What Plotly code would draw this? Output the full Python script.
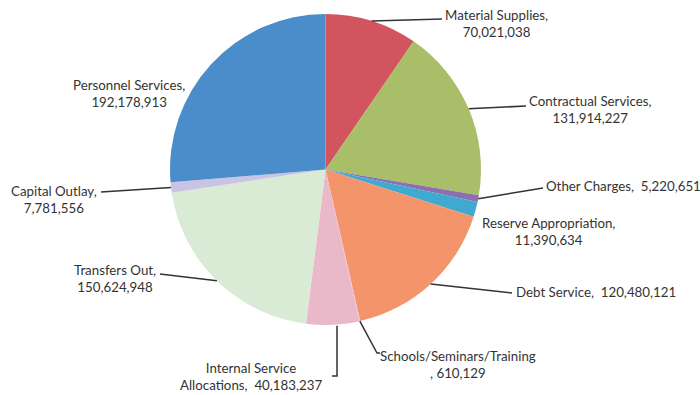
import math
import plotly.graph_objects as go

# Budget categories, in the order they run clockwise from 12 o'clock
categories = [
    "Material Supplies", "Contractual Services", "Other Charges",
    "Reserve Appropriation", "Debt Service", "Schools/Seminars/Training",
    "Internal Service Allocations", "Transfers Out", "Capital Outlay",
    "Personnel Services",
]
amounts = [
    70021038, 131914227, 5220651, 11390634, 120480121, 610129,
    40183237, 150624948, 7781556, 192178913,
]
slice_colors = [
    "#D2545F", "#A8BE69", "#8B6FB0", "#3FA9CF", "#F4946B", "#E9B9C9",
    "#E9B9C9", "#D9EBD4", "#C9C3E4", "#4A8DCA",
]

W, H = 700, 395
# pie box in pixels
PX0, PX1, PY0, PY1 = 170, 481, 14, 325
CX, CY = (PX0 + PX1) / 2, (PY0 + PY1) / 2
R = (PX1 - PX0) / 2


def px(x):
    return x / W


def py(y):
    return 1 - y / H


def fmt(v):
    return f"{v:,}"


# label text placement: pixel anchor, xanchor, text lines, leader-line end (and elbow)
label_layout = {
    "Material Supplies": dict(x=443, y=24, xa="left", lines=("Material Supplies,", fmt(amounts[0])), end=(442, 19)),
    "Contractual Services": dict(x=527, y=110, xa="left", lines=("Contractual Services,", fmt(amounts[1])), end=(526, 106)),
    "Other Charges": dict(x=544, y=186, xa="left", lines=("Other Charges,  " + fmt(amounts[2]),), end=(543, 188)),
    "Reserve Appropriation": dict(x=480, y=231, xa="left", lines=("Reserve Appropriation,", fmt(amounts[3])), end=None),
    "Debt Service": dict(x=514, y=292, xa="left", lines=("Debt Service,  " + fmt(amounts[4]),), end=(512, 293)),
    "Schools/Seminars/Training": dict(x=378, y=364, xa="left", lines=("Schools/Seminars/Training", ", " + fmt(amounts[5])), end=(380, 353), mid=(377, 353)),
    "Internal Service Allocations": dict(x=251, y=376, xa="center", lines=("Internal Service", "Allocations,  " + fmt(amounts[6])), end=(332, 376), mid=(337, 376)),
    "Transfers Out": dict(x=72, y=278, xa="left", lines=("Transfers Out,", fmt(amounts[7])), end=(160, 274)),
    "Capital Outlay": dict(x=9, y=199, xa="left", lines=("Capital Outlay,", fmt(amounts[8])), end=(101, 192)),
    "Personnel Services": dict(x=71, y=93, xa="left", lines=("Personnel Services,", fmt(amounts[9])), end=None),
}

fig = go.Figure(go.Pie(
    labels=categories,
    values=amounts,
    sort=False,
    direction="clockwise",
    rotation=0,
    marker=dict(colors=slice_colors, line=dict(width=0)),
    textinfo="none",
    hoverinfo="label+value",
    showlegend=False,
    domain=dict(x=[px(PX0), px(PX1)], y=[py(PY1), py(PY0)]),
))

total = sum(amounts)
cum = 0
shapes = []
annotations = []
for name, val in zip(categories, amounts):
    mid_frac = (cum + val / 2) / total
    cum += val
    ang = 2 * math.pi * mid_frac
    ex, ey = CX + R * math.sin(ang), CY - R * math.cos(ang)
    lay = label_layout[name]
    if lay["end"] is not None:
        if name == "Internal Service Allocations":
            pts = [(lay["mid"][0], ey + 1), lay["mid"]]
        else:
            pts = [(ex, ey)]
            if "mid" in lay:
                pts.append(lay["mid"])
        pts.append(lay["end"])
        path = "M " + " L ".join(f"{px(a):.5f},{py(b):.5f}" for a, b in pts)
        shapes.append(dict(type="path", xref="paper", yref="paper", path=path,
                           line=dict(color="#333333", width=1.5)))
    annotations.append(dict(
        x=px(lay["x"]), y=py(lay["y"]), xref="paper", yref="paper",
        xanchor=lay["xa"], yanchor="middle", text="<br>".join(lay["lines"]),
        showarrow=False, align="center",
        font=dict(family="Lato", size=13.3, color="#333333"),
    ))

fig.update_layout(
    width=W, height=H,
    margin=dict(l=0, r=0, t=0, b=0),
    paper_bgcolor="white",
    plot_bgcolor="white",
    shapes=shapes,
    annotations=annotations,
)

fig.write_html("out.html")
